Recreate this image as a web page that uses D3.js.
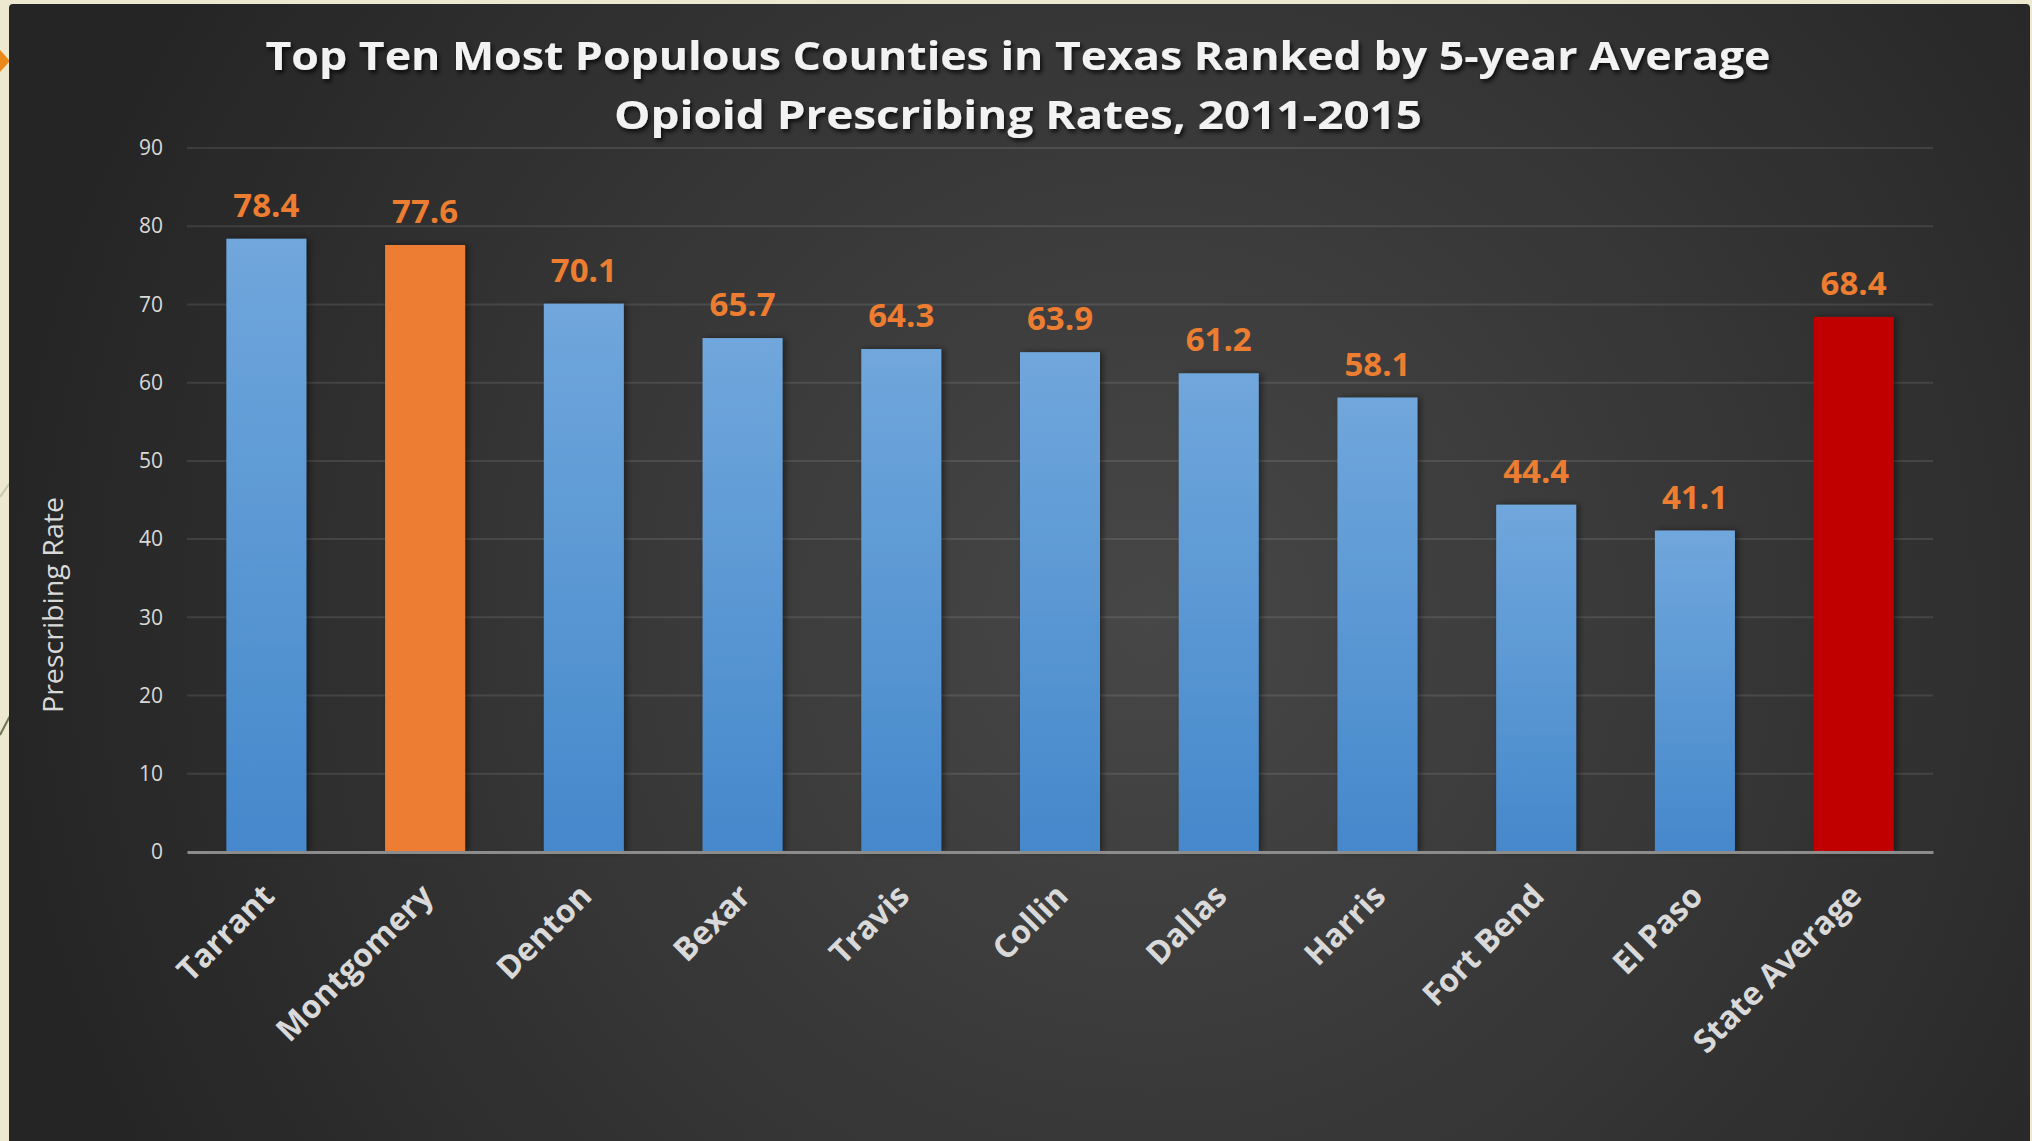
<!DOCTYPE html>
<html>
<head>
<meta charset="utf-8">
<script src="https://cdn.jsdelivr.net/npm/d3@7"></script>
<style>
  html, body { margin: 0; padding: 0; background: #ECE9D0; }
  svg { display: block; }
</style>
</head>
<body>
<svg id="chart" width="2032" height="1141"></svg>
<script>
// County data: 5-year average opioid prescribing rates, 2011-2015
const categories = ["Tarrant", "Montgomery", "Denton", "Bexar", "Travis", "Collin",
                    "Dallas", "Harris", "Fort Bend", "El Paso", "State Average"];
const rates = [78.4, 77.6, 70.1, 65.7, 64.3, 63.9, 61.2, 58.1, 44.4, 41.1, 68.4];
const kinds = ["county", "focus", "county", "county", "county", "county",
               "county", "county", "county", "county", "state"];
const yTicks = [0, 10, 20, 30, 40, 50, 60, 70, 80, 90];
const titleLines = ["Top Ten Most Populous Counties in Texas Ranked by 5-year Average",
                    "Opioid Prescribing Rates, 2011-2015"];
const yLabel = "Prescribing Rate";

const W = 2032, H = 1141;
const svg = d3.select("#chart");
const defs = svg.append("defs");

// Panel background: dark radial glow
const bg = defs.append("radialGradient").attr("id", "panelGrad")
  .attr("gradientUnits", "userSpaceOnUse")
  .attr("cx", 1150).attr("cy", 620).attr("r", 1150);
bg.append("stop").attr("offset", "0%").attr("stop-color", "#474747");
bg.append("stop").attr("offset", "55%").attr("stop-color", "#353535");
bg.append("stop").attr("offset", "100%").attr("stop-color", "#252525");

// Blue bar gradient
const bluegrad = defs.append("linearGradient").attr("id", "blueGrad")
  .attr("x1", 0).attr("y1", 0).attr("x2", 0).attr("y2", 1);
bluegrad.append("stop").attr("offset", "0%").attr("stop-color", "#70A7DC");
bluegrad.append("stop").attr("offset", "100%").attr("stop-color", "#4588CB");

const barShadow = defs.append("filter").attr("id", "barShadow")
  .attr("x", "-20%").attr("y", "-10%").attr("width", "150%").attr("height", "120%");
barShadow.append("feDropShadow").attr("dx", 3).attr("dy", 0)
  .attr("stdDeviation", 3).attr("flood-color", "#000").attr("flood-opacity", 0.45);

const textShadow = defs.append("filter").attr("id", "textShadow")
  .attr("x", "-5%").attr("y", "-30%").attr("width", "110%").attr("height", "160%");
textShadow.append("feDropShadow").attr("dx", 2).attr("dy", 3)
  .attr("stdDeviation", 2).attr("flood-color", "#000").attr("flood-opacity", 0.75);

// Slide decorations on the beige margin
svg.append("line").attr("x1", 0).attr("y1", 497).attr("x2", 12).attr("y2", 480)
  .attr("stroke", "#C8C6AE").attr("stroke-width", 2);
svg.append("line").attr("x1", 0).attr("y1", 735).attr("x2", 12).attr("y2", 712)
  .attr("stroke", "#6F7456").attr("stroke-width", 2);
svg.append("path").attr("d", "M0,50 L10,61 L0,72 Z").attr("fill", "#E9891B");

// Dark chart panel
svg.append("rect").attr("x", 9).attr("y", 4).attr("width", 2021).attr("height", H)
  .attr("rx", 4).attr("fill", "url(#panelGrad)");

// Scales
const x = d3.scaleBand().domain(categories).range([187, 1933])
  .paddingInner(0.496).paddingOuter(0.248);
const y = d3.scaleLinear().domain([0, 90]).range([852, 148]);

// Gridlines
svg.append("g").selectAll("line").data(yTicks.filter(t => t > 0)).join("line")
  .attr("x1", 187).attr("x2", 1933)
  .attr("y1", d => y(d)).attr("y2", d => y(d))
  .attr("stroke", "#ffffff").attr("stroke-opacity", 0.1).attr("stroke-width", 2);

// Y axis labels
const yAxis = svg.append("g").attr("transform", "translate(187,0)")
  .call(d3.axisLeft(y).tickValues(yTicks).tickSize(0).tickPadding(24));
yAxis.select(".domain").remove();
yAxis.selectAll("text")
  .attr("fill", "#D9D9D9").style("font-family", "'Open Sans', sans-serif")
  .style("font-size", "21px");

// Bars
const colorOf = { county: "url(#blueGrad)", focus: "#ED7D31", state: "#C00000" };
const rows = categories.map((c, i) => ({ name: c, value: rates[i], kind: kinds[i] }));
svg.append("g").selectAll("rect").data(rows).join("rect")
  .attr("x", d => x(d.name)).attr("width", x.bandwidth())
  .attr("y", d => y(d.value)).attr("height", d => y(0) - y(d.value))
  .attr("fill", d => colorOf[d.kind])
  .attr("filter", "url(#barShadow)");

// Value labels
svg.append("g").selectAll("text").data(rows).join("text")
  .attr("x", d => x(d.name) + x.bandwidth() / 2)
  .attr("y", d => y(d.value) - 22)
  .attr("text-anchor", "middle")
  .attr("fill", "#ED7D31")
  .style("font-family", "'Open Sans', sans-serif")
  .style("font-weight", 700).style("font-size", "33px")
  .text(d => d.value.toFixed(1));

// X axis with rotated category labels
const xAxis = svg.append("g").attr("transform", `translate(0,${y(0)})`)
  .call(d3.axisBottom(x).tickSize(0).tickSizeOuter(0));
xAxis.select(".domain").attr("stroke", "#8C8C8C").attr("stroke-width", 3);
xAxis.selectAll("text")
  .attr("x", 0).attr("y", 0).attr("dy", "0.35em")
  .attr("transform", "translate(2,38) rotate(-45)")
  .attr("text-anchor", "end")
  .attr("fill", "#D9D9D9")
  .style("font-family", "'Open Sans', sans-serif")
  .style("font-weight", 700).style("font-size", "32px");

// Y axis title
svg.append("text")
  .attr("transform", "translate(63,605) rotate(-90)")
  .attr("text-anchor", "middle")
  .attr("fill", "#D9D9D9")
  .style("font-family", "'Open Sans', sans-serif")
  .style("font-size", "28px")
  .attr("textLength", 216).attr("lengthAdjust", "spacingAndGlyphs")
  .text(yLabel);

// Title
const title = svg.append("text").attr("text-anchor", "middle")
  .attr("fill", "#F2F2F2").attr("filter", "url(#textShadow)")
  .style("font-family", "'Open Sans', sans-serif")
  .style("font-weight", 700).style("font-size", "40px");
const titleWidths = [1505, 808];
title.selectAll("tspan").data(titleLines).join("tspan")
  .attr("x", 1018).attr("y", (d, i) => 70 + i * 59)
  .attr("textLength", (d, i) => titleWidths[i]).attr("lengthAdjust", "spacingAndGlyphs")
  .text(d => d);
</script>
</body>
</html>
